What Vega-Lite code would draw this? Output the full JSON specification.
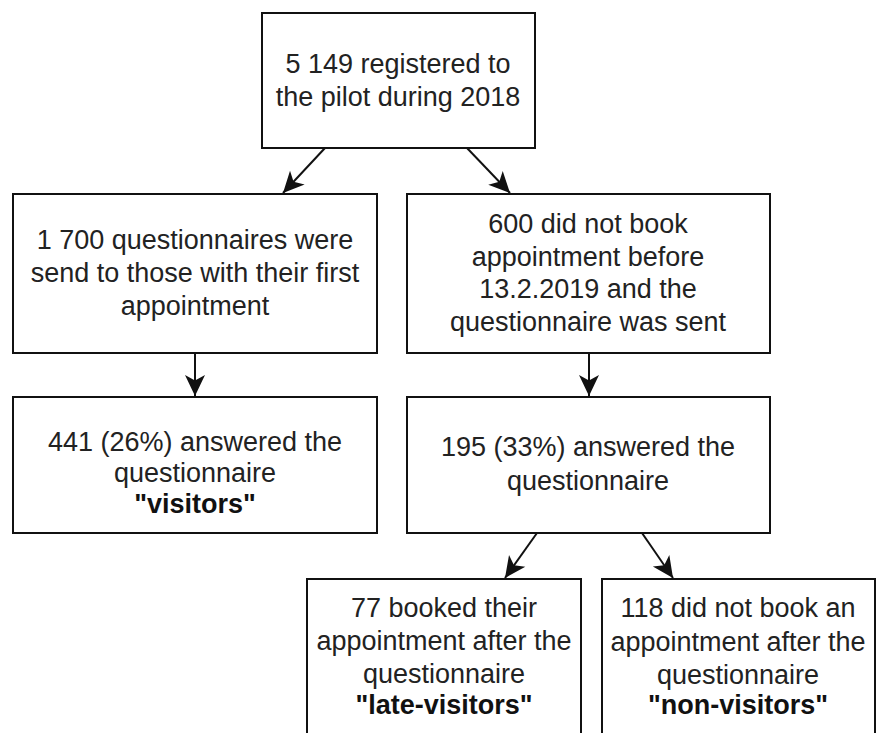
{
  "$schema": "https://vega.github.io/schema/vega-lite/v6.json",
  "width": 878,
  "height": 733,
  "autosize": {"type": "fit", "contains": "padding"},
  "padding": 0,
  "background": "white",
  "config": {"view": {"stroke": null}},
  "datasets": {
    "boxes": [
      {"id": "registered", "x1": 262, "x2": 535, "y1": 13, "y2": 148},
      {"id": "sent_first", "x1": 13, "x2": 377, "y1": 194, "y2": 353},
      {"id": "not_booked", "x1": 407, "x2": 770, "y1": 194, "y2": 353},
      {"id": "visitors", "x1": 13, "x2": 377, "y1": 397, "y2": 533},
      {"id": "answered", "x1": 407, "x2": 770, "y1": 397, "y2": 533},
      {"id": "late", "x1": 307, "x2": 581, "y1": 579, "y2": 760},
      {"id": "non", "x1": 602, "x2": 875, "y1": 579, "y2": 760}
    ],
    "arrows": [
      {"from": "registered", "to": "sent_first", "x1": 325, "y1": 148, "x2": 283, "y2": 193},
      {"from": "registered", "to": "not_booked", "x1": 467, "y1": 148, "x2": 510, "y2": 193},
      {"from": "sent_first", "to": "visitors", "x1": 195, "y1": 353, "x2": 195, "y2": 396},
      {"from": "not_booked", "to": "answered", "x1": 589, "y1": 353, "x2": 589, "y2": 396},
      {"from": "answered", "to": "late", "x1": 537, "y1": 533, "x2": 505, "y2": 578},
      {"from": "answered", "to": "non", "x1": 642, "y1": 533, "x2": 673, "y2": 578}
    ],
    "labels": [
      {"box": "registered", "text": "5 149 registered to", "x": 398, "y": 65, "bold": false},
      {"box": "registered", "text": "the pilot during 2018", "x": 398, "y": 98, "bold": false},
      {"box": "sent_first", "text": "1 700 questionnaires were", "x": 195, "y": 241, "bold": false},
      {"box": "sent_first", "text": "send to those with their first", "x": 195, "y": 274, "bold": false},
      {"box": "sent_first", "text": "appointment", "x": 195, "y": 307, "bold": false},
      {"box": "not_booked", "text": "600 did not book", "x": 588, "y": 225, "bold": false},
      {"box": "not_booked", "text": "appointment before", "x": 588, "y": 258, "bold": false},
      {"box": "not_booked", "text": "13.2.2019 and the", "x": 588, "y": 290, "bold": false},
      {"box": "not_booked", "text": "questionnaire was sent", "x": 588, "y": 323, "bold": false},
      {"box": "visitors", "text": "441 (26%) answered the", "x": 195, "y": 443, "bold": false},
      {"box": "visitors", "text": "questionnaire", "x": 195, "y": 474, "bold": false},
      {"box": "visitors", "text": "\"visitors\"", "x": 195, "y": 505, "bold": true},
      {"box": "answered", "text": "195 (33%) answered the", "x": 588, "y": 448, "bold": false},
      {"box": "answered", "text": "questionnaire", "x": 588, "y": 482, "bold": false},
      {"box": "late", "text": "77 booked their", "x": 444, "y": 609, "bold": false},
      {"box": "late", "text": "appointment after the", "x": 444, "y": 642, "bold": false},
      {"box": "late", "text": "questionnaire", "x": 444, "y": 675, "bold": false},
      {"box": "late", "text": "\"late-visitors\"", "x": 444, "y": 706, "bold": true},
      {"box": "non", "text": "118 did not book an", "x": 738, "y": 609, "bold": false},
      {"box": "non", "text": "appointment after the", "x": 738, "y": 643, "bold": false},
      {"box": "non", "text": "questionnaire", "x": 738, "y": 676, "bold": false},
      {"box": "non", "text": "\"non-visitors\"", "x": 738, "y": 706, "bold": true}
    ]
  },
  "layer": [
    {
      "data": {"name": "boxes"},
      "mark": {"type": "rect", "fill": "white", "stroke": "#111111", "strokeWidth": 2, "clip": true},
      "encoding": {
        "x": {"field": "x1", "type": "quantitative", "scale": {"domain": [0, 878], "nice": false, "zero": false}, "axis": null},
        "x2": {"field": "x2"},
        "y": {"field": "y1", "type": "quantitative", "scale": {"domain": [0, 733], "nice": false, "zero": false, "reverse": true}, "axis": null},
        "y2": {"field": "y2"}
      }
    },
    {
      "data": {"name": "arrows"},
      "mark": {"type": "rule", "stroke": "#111111", "strokeWidth": 2},
      "encoding": {
        "x": {"field": "x1", "type": "quantitative"},
        "x2": {"field": "x2"},
        "y": {"field": "y1", "type": "quantitative"},
        "y2": {"field": "y2"}
      }
    },
    {
      "data": {"name": "arrows"},
      "transform": [
        {"calculate": "atan2(datum.x2 - datum.x1, -(datum.y2 - datum.y1)) * 180 / PI", "as": "ang"}
      ],
      "mark": {"type": "point", "shape": "M0,0 L1,2.1 L0,1.55 L-1,2.1 Z", "filled": true, "fill": "#111111", "stroke": null, "opacity": 1},
      "encoding": {
        "x": {"field": "x2", "type": "quantitative"},
        "y": {"field": "y2", "type": "quantitative"},
        "angle": {"field": "ang", "type": "quantitative", "scale": null},
        "size": {"value": 400}
      }
    },
    {
      "data": {"name": "labels"},
      "transform": [{"filter": "!datum.bold"}],
      "mark": {"type": "text", "font": "Liberation Sans", "fontSize": 27, "color": "#222222", "align": "center", "baseline": "middle"},
      "encoding": {
        "x": {"field": "x", "type": "quantitative"},
        "y": {"field": "y", "type": "quantitative"},
        "text": {"field": "text"}
      }
    },
    {
      "data": {"name": "labels"},
      "transform": [{"filter": "datum.bold"}],
      "mark": {"type": "text", "font": "Liberation Sans", "fontSize": 27, "fontWeight": "bold", "color": "#111111", "align": "center", "baseline": "middle"},
      "encoding": {
        "x": {"field": "x", "type": "quantitative"},
        "y": {"field": "y", "type": "quantitative"},
        "text": {"field": "text"}
      }
    }
  ]
}
